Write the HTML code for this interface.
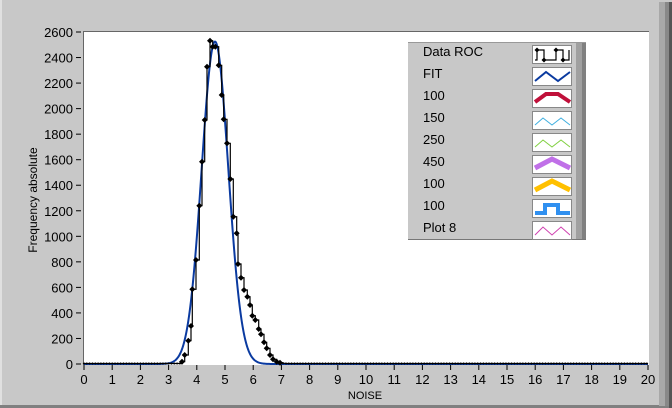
<!DOCTYPE html>
<html><head><meta charset="utf-8"><style>
html,body{margin:0;padding:0;background:#c8c8c8;}
svg{display:block;font-family:"Liberation Sans",Tahoma,sans-serif;}
</style></head><body>
<svg id="s" width="672" height="408" xmlns="http://www.w3.org/2000/svg">
<rect width="672" height="408" fill="#c8c8c8"/>
<rect x="0" y="0" width="2" height="408" fill="#e0e0e0"/>
<rect x="0" y="405" width="672" height="3" fill="#808080"/>
<rect x="659" y="2" width="6" height="404" fill="#a8a8a8"/>
<rect x="665" y="2" width="4" height="404" fill="#888"/>
<rect x="669" y="2" width="3" height="406" fill="#555"/>
<rect x="83" y="31" width="566" height="334" fill="#fff"/>
<line x1="83" y1="31.5" x2="649" y2="31.5" stroke="#666"/>
<line x1="83.5" y1="31" x2="83.5" y2="365" stroke="#666"/>
<g id="ax" font-size="13" fill="#000"></g>
<text x="365" y="399" font-size="11" text-anchor="middle">NOISE</text>
<text transform="translate(37,200) rotate(-90)" font-size="12" text-anchor="middle">Frequency absolute</text>
<g id="plot"></g>
<rect x="408" y="42" width="178" height="198" fill="#c8c8c8"/>
<rect x="576" y="42" width="6" height="198" fill="#a0a0a0"/>
<rect x="582" y="42" width="4" height="198" fill="#808080"/>
<line x1="408" y1="239.5" x2="586" y2="239.5" stroke="#777"/>
<line x1="408" y1="42.5" x2="586" y2="42.5" stroke="#999"/>
<g id="leg" font-size="13"></g>
</svg>
<script>
var NS="http://www.w3.org/2000/svg";
function el(p,t,a,txt){var e=document.createElementNS(NS,t);for(var k in a)e.setAttribute(k,a[k]);if(txt!=null)e.textContent=txt;p.appendChild(e);return e;}
var ax=document.getElementById('ax');
function X(v){return 84+v*28.2;}
function Y(v){return 364-v*0.12769;}
for(var i=0;i<=20;i++){var x=X(i);el(ax,'line',{x1:x,y1:365,x2:x,y2:370,stroke:'#000'});
el(ax,'text',{x:x,y:384,'text-anchor':'middle'},i);}
for(var v=0;v<=2600;v+=200){var y=Y(v);el(ax,'line',{x1:76,y1:y,x2:81,y2:y,stroke:'#000'});
el(ax,'text',{x:73,y:y+5,'text-anchor':'end'},v);}
var plot=document.getElementById('plot');
var d='';for(var px=84;px<=648;px+=0.5){var g=2525*Math.exp(-Math.pow(px-215,2)/(2*13.3*13.3));var y=364-g*0.12769;d+=(px==84?'M':'L')+px+' '+y.toFixed(2);}
el(plot,'path',{d:d,fill:'none',stroke:'#0a3aa0','stroke-width':2});
var pts=[[182,361.7],[184.7,355],[188.3,340.7],[191,326],[192.3,289.3],[196,260],[199.3,205.7],[202,161.7],[204.7,120],[207,66.7],[210,40.7],[212.7,46.7],[215.3,46.7],[218.7,65.3],[221.7,95],[223.7,119.3],[227,143.3],[230.3,179],[233.3,216.7],[236.7,233.3],[238,264],[241,277.7],[244,290],[247.3,296.7],[250,305],[252.3,315.7],[255.3,320],[258.7,329],[261,334.3],[264,342.3],[266.7,348.3],[270,355],[273,359.3],[276.7,361.7],[280,362.7],[283,363.3]];
var all=[];for(var x=84;x<180;x+=2.82)all.push([x,363.5]);
pts.forEach(function(p){all.push(p)});
for(var x=286;x<=648;x+=2.82)all.push([x,363.5]);
var s='M'+all[0][0]+' '+all[0][1];
for(var i=1;i<all.length;i++){s+=' L'+all[i][0]+' '+all[i-1][1]+' L'+all[i][0]+' '+all[i][1];}
el(plot,'path',{d:s,fill:'none',stroke:'#000','stroke-width':1.2});
all.forEach(function(p){var big=p[1]<363;var r=big?3:1.3;
el(plot,'path',{d:'M'+(p[0]-r)+' '+p[1]+'L'+p[0]+' '+(p[1]-r)+'L'+(p[0]+r)+' '+p[1]+'L'+p[0]+' '+(p[1]+r)+'Z',fill:'#000'});});
var leg=document.getElementById('leg');
var names=['Data ROC','FIT','100','150','250','450','100','100','Plot 8'];
for(var i=0;i<9;i++){var y=42+i*22;el(leg,'text',{x:423,y:y+14},names[i]);
el(leg,'rect',{x:532.5,y:y+3.5,width:39,height:18,fill:'#fff',stroke:'#888'});}
function sw(i,d,c,w){var y=42+i*22;el(leg,'path',{d:d,transform:'translate(534,'+(y+5)+')',fill:'none',stroke:c,'stroke-width':w});}
sw(0,'M1 13 L3 13 L3 3 L10 3 L10 13 L22 13 L22 3 L29 3 L29 13 L35 13 L35 3','#000',1.2);
[[3,3],[10,13],[22,3],[29,13]].forEach(function(p){el(leg,'path',{d:'M'+(534+p[0]-2.5)+' '+(47+p[1])+'l2.5 -2.5l2.5 2.5l-2.5 2.5z',fill:'#000'});});
sw(1,'M1 12 L12 3 L24 12 L36 3','#0a3aa0',2);
sw(2,'M1 11 L12 3 L24 3 L36 11','#c0103a',4);
sw(3,'M1 12 L9 5 L18 12 L27 5 L36 12','#40b0e0',1);
sw(4,'M1 12 L9 5 L18 12 L27 5 L36 12','#80d040',1);
sw(5,'M1 11 L18 2 L36 11','#c070e8',5);
sw(6,'M1 11 L18 2 L36 11','#ffc000',5);
sw(7,'M1 12 L11 12 L11 4 L24 4 L24 12 L36 12','#3090f0',4);
sw(8,'M1 12 L9 4 L18 12 L27 4 L36 12','#d040b0',1);
</script>
</body></html>
